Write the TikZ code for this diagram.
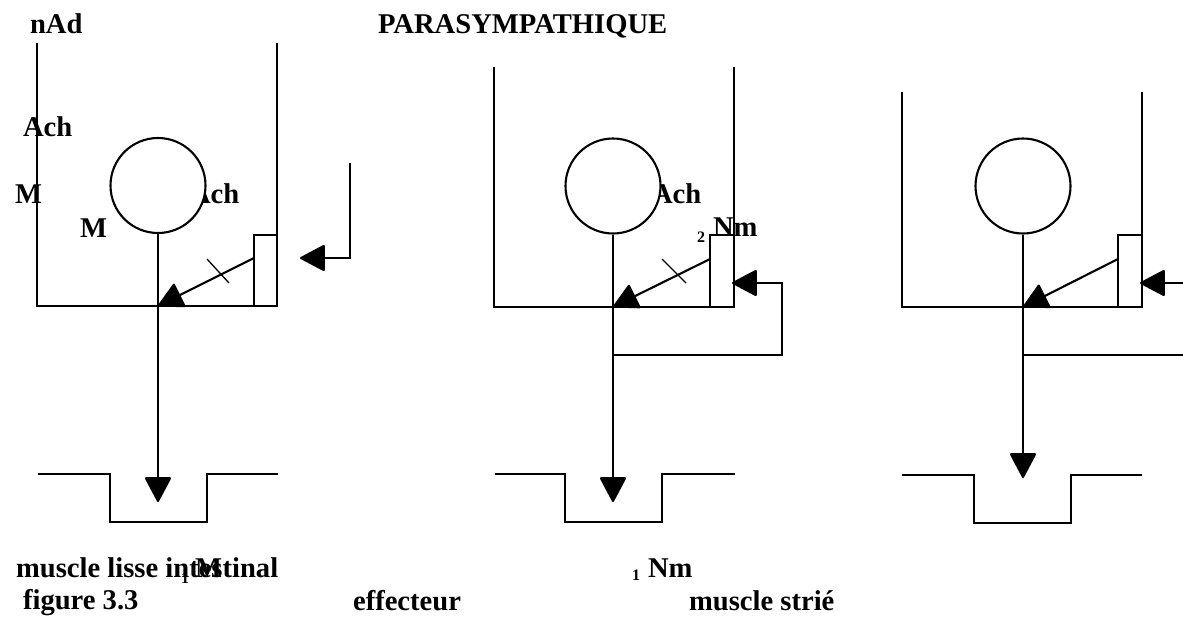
\documentclass[tikz,border=0pt]{standalone}
\usepackage{fontspec}
\setmainfont{Liberation Serif}
\usetikzlibrary{arrows.meta}
\begin{document}
\begin{tikzpicture}[x=1pt,y=-1pt,line width=2.1pt,
  tip/.style={-{Triangle[length=26pt,width=27pt,round]}},
  lbl/.style={font=\fontsize{28.6}{28.6}\selectfont\bfseries,inner sep=0pt,anchor=base west},
  sub/.style={font=\fontsize{16}{16}\selectfont\bfseries,inner sep=0pt,anchor=base west},
  cell/.style={circle,draw,fill=white,minimum size=95pt,inner sep=0pt},
  tick/.style={line width=1.3pt}]
\useasboundingbox (0,0) rectangle (1183,616);
\clip (0,0) rectangle (1183,616);

% ---------- labels ----------
\node[lbl] (tnad) at (29,33) {nAd};
\node[lbl] (tpara) at (377,33) {PARASYMPATHIQUE};
\node[lbl] (tach1) at (22,136) {Ach};
\node[lbl] (tm1) at (14,203) {M};
\node[lbl] (tach2) at (189,203) {Ach};
\node[lbl] (tm2) at (79,237) {M};
\node[lbl] (tach3) at (651,203) {Ach};
\node[sub] (ttwo) at (696,242) {2};
\node[lbl] (tnm2) at (712,236) {Nm};
\node[lbl] (tmli) at (15,577) {muscle lisse intestinal};
\node[sub] (tone1) at (180,583) {1};
\node[lbl] (tm3) at (194,577) {M};
\node[sub] (tone2) at (631,580) {1};
\node[lbl] (tnm1) at (647,577) {Nm};
\node[lbl] (tfig) at (22,609) {figure 3.3};
\node[lbl] (teff) at (352,610) {effecteur};
\node[lbl] (tms) at (688,610) {muscle strié};

% ---------- panel 1 ----------
\draw (37,43) -- (37,306) -- (277,306) -- (277,43);
\draw (254,306) -- (254,235) -- (277,235);
\node[cell] (c1) at (158,185.5) {};
\coordinate (s1) at (158,306);
\coordinate (r1) at (254,258);
\coordinate (m1) at (158,502);
\coordinate (a1) at (350,163);
\coordinate (b1) at (300,258);
\draw[tip] (c1.south) -- (m1);
\draw[tip] (r1) -- (s1);
\draw[tick] (207,259) -- (229,283);
\draw[tip] (a1) |- (b1);
\draw (38,474) -- (110,474) -- (110,522) -- (207,522) -- (207,474) -- (278,474);

% ---------- panel 2 ----------
\draw (494,67) -- (494,307) -- (734,307) -- (734,67);
\draw (710,307) -- (710,235) -- (734,235);
\node[cell] (c2) at (613,186) {};
\coordinate (s2) at (613,307);
\coordinate (r2) at (710,259);
\coordinate (m2) at (613,502);
\coordinate (j2) at (613,355);
\coordinate (k2) at (782,355);
\coordinate (b2) at (732,283);
\draw[tip] (c2.south) -- (m2);
\draw[tip] (r2) -- (s2);
\draw[tick] (662,259) -- (686,283);
\draw[tip] (j2) -- (k2) |- (b2);
\draw (495,474) -- (565,474) -- (565,522) -- (662,522) -- (662,474) -- (735,474);

% ---------- panel 3 ----------
\draw (902,92) -- (902,307) -- (1142,307) -- (1142,92);
\draw (1118,307) -- (1118,235) -- (1142,235);
\node[cell] (c3) at (1023,186) {};
\coordinate (s3) at (1023,307);
\coordinate (r3) at (1118,259);
\coordinate (m3) at (1023,478);
\coordinate (j3) at (1023,355);
\coordinate (k3) at (1195,355);
\coordinate (a3) at (1195,283);
\coordinate (b3) at (1140,283);
\draw[tip] (c3.south) -- (m3);
\draw[tip] (r3) -- (s3);
\draw (j3) -- (k3);
\draw[tip] (a3) -- (b3);
\draw (902,475) -- (974,475) -- (974,523) -- (1071,523) -- (1071,475) -- (1142,475);
\end{tikzpicture}
\end{document}
